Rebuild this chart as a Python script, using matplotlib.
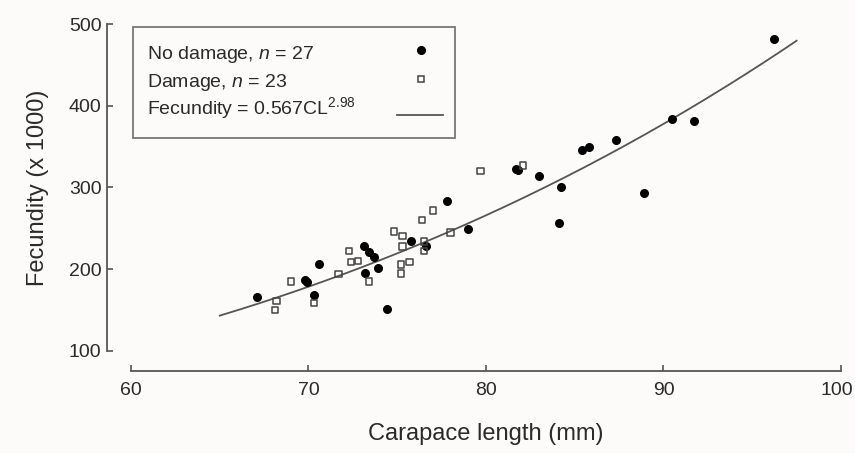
import numpy as np
import matplotlib
matplotlib.use("Agg")
import matplotlib.pyplot as plt
import matplotlib.transforms as mtransforms
from matplotlib.patches import Rectangle

plt.rcParams['font.family'] = ['Liberation Sans', 'DejaVu Sans']
plt.rcParams['mathtext.fontset'] = 'custom'
plt.rcParams['mathtext.rm'] = 'Liberation Sans'
plt.rcParams['mathtext.it'] = 'Liberation Sans:italic'

# no damage (filled circles): carapace length (mm), fecundity (x 1000)
nd_cl = [67.1, 69.8, 69.9, 70.6, 70.3, 73.1, 73.4, 73.7, 73.9, 73.2,
         74.4, 75.8, 76.6, 77.8, 79.0, 81.7, 81.8, 83.0, 84.2, 84.1,
         85.4, 85.8, 87.3, 88.9, 90.5, 91.7, 96.2]
nd_fec = [166, 187, 185, 207, 168, 228, 221, 215, 201, 195,
          151, 235, 229, 284, 249, 323, 321, 314, 300, 256,
          346, 350, 358, 293, 384, 381, 482]

# damage (open squares)
d_cl = [68.2, 68.1, 69.0, 70.3, 71.7, 72.3, 72.4, 72.8, 73.4, 74.8,
        75.3, 75.3, 75.2, 75.7, 75.2, 76.4, 77.0, 76.5, 76.5, 79.7,
        82.1, 78.0]
d_fec = [161, 150, 185, 159, 194, 222, 209, 210, 185, 246,
         241, 228, 206, 209, 195, 260, 272, 234, 222, 320,
         327, 245]

# fitted curve: Fecundity = 0.567 CL^2.98 (shown in thousands)
coef_a = 0.567
coef_b = 2.98
cl_range = (65, 97.5)

labels = [r'No damage, $\it{n}$ = 27', r'Damage, $\it{n}$ = 23',
          r'Fecundity = 0.567CL$^{2.98}$']

bg = '#fdfbf9'
txt = '#2a2a2a'
axc = '#555555'

fig = plt.figure(figsize=(8.55, 4.53), dpi=100, facecolor=bg)
ax = fig.add_axes([0.1532, 0.2252, 0.8304, 0.7218])
ax.set_facecolor(bg)

cl = np.linspace(cl_range[0], cl_range[1], 200)
ax.plot(cl, coef_a * cl ** coef_b / 1000, color=axc, lw=1.3, zorder=2)
ax.scatter(nd_cl, nd_fec, s=30, color='black', marker='o', zorder=3)
ax.scatter(d_cl, d_fec, s=21, facecolor='none', edgecolor='#444444',
           marker='s', linewidths=1.1, zorder=3)

ax.set_xlim(60, 100)
ax.set_ylim(100, 500)
ax.set_xticks([60, 70, 80, 90, 100])
ax.set_yticks([100, 200, 300, 400, 500])

for s in ['top', 'right']:
    ax.spines[s].set_visible(False)
ax.spines['left'].set_position(('outward', 17.3))
ax.spines['bottom'].set_position(('outward', 14.4))
for s in ['left', 'bottom']:
    ax.spines[s].set_color(axc)
    ax.spines[s].set_linewidth(1.3)
ax.tick_params(direction='in', length=4.5, width=1.2, color=axc,
               labelsize=14, labelcolor=txt)
ax.tick_params(axis='x', pad=8)
ax.tick_params(axis='y', pad=4)

# last x label sits against the right edge of the figure
last = ax.get_xticklabels()[-1]
last.set_transform(last.get_transform() +
                   mtransforms.ScaledTranslation(-4 / 100, 0, fig.dpi_scale_trans))

ax.set_xlabel('Carapace length (mm)', fontsize=17, color=txt, labelpad=17)
ax.set_ylabel('Fecundity (x 1000)', fontsize=17, color=txt, labelpad=14)

# legend box drawn by hand: labels left, symbols in a right column
ax.add_patch(Rectangle((0.0028, 0.6514), 0.4535, 0.3394, transform=ax.transAxes,
                       facecolor=bg, edgecolor='#777777', lw=1.3,
                       clip_on=False, zorder=4))
rows_y = [0.9080, 0.8210, 0.7440]
for y, lab in zip(rows_y, labels):
    ax.text(0.0225, y, lab, transform=ax.transAxes, fontsize=14, color=txt,
            va='center', ha='left', zorder=5)
ax.plot([0.4085], [0.9205], 'o', color='black', ms=5.5,
        transform=ax.transAxes, clip_on=False, zorder=5)
ax.plot([0.4085], [0.8318], 's', mfc='none', mec='#444444', ms=4.6, mew=1.1,
        transform=ax.transAxes, clip_on=False, zorder=5)
ax.plot([0.3746, 0.4394], [0.7217, 0.7217], color=axc, lw=1.3,
        transform=ax.transAxes, clip_on=False, zorder=5)

fig.savefig('out.png', dpi=100, facecolor=fig.get_facecolor())
